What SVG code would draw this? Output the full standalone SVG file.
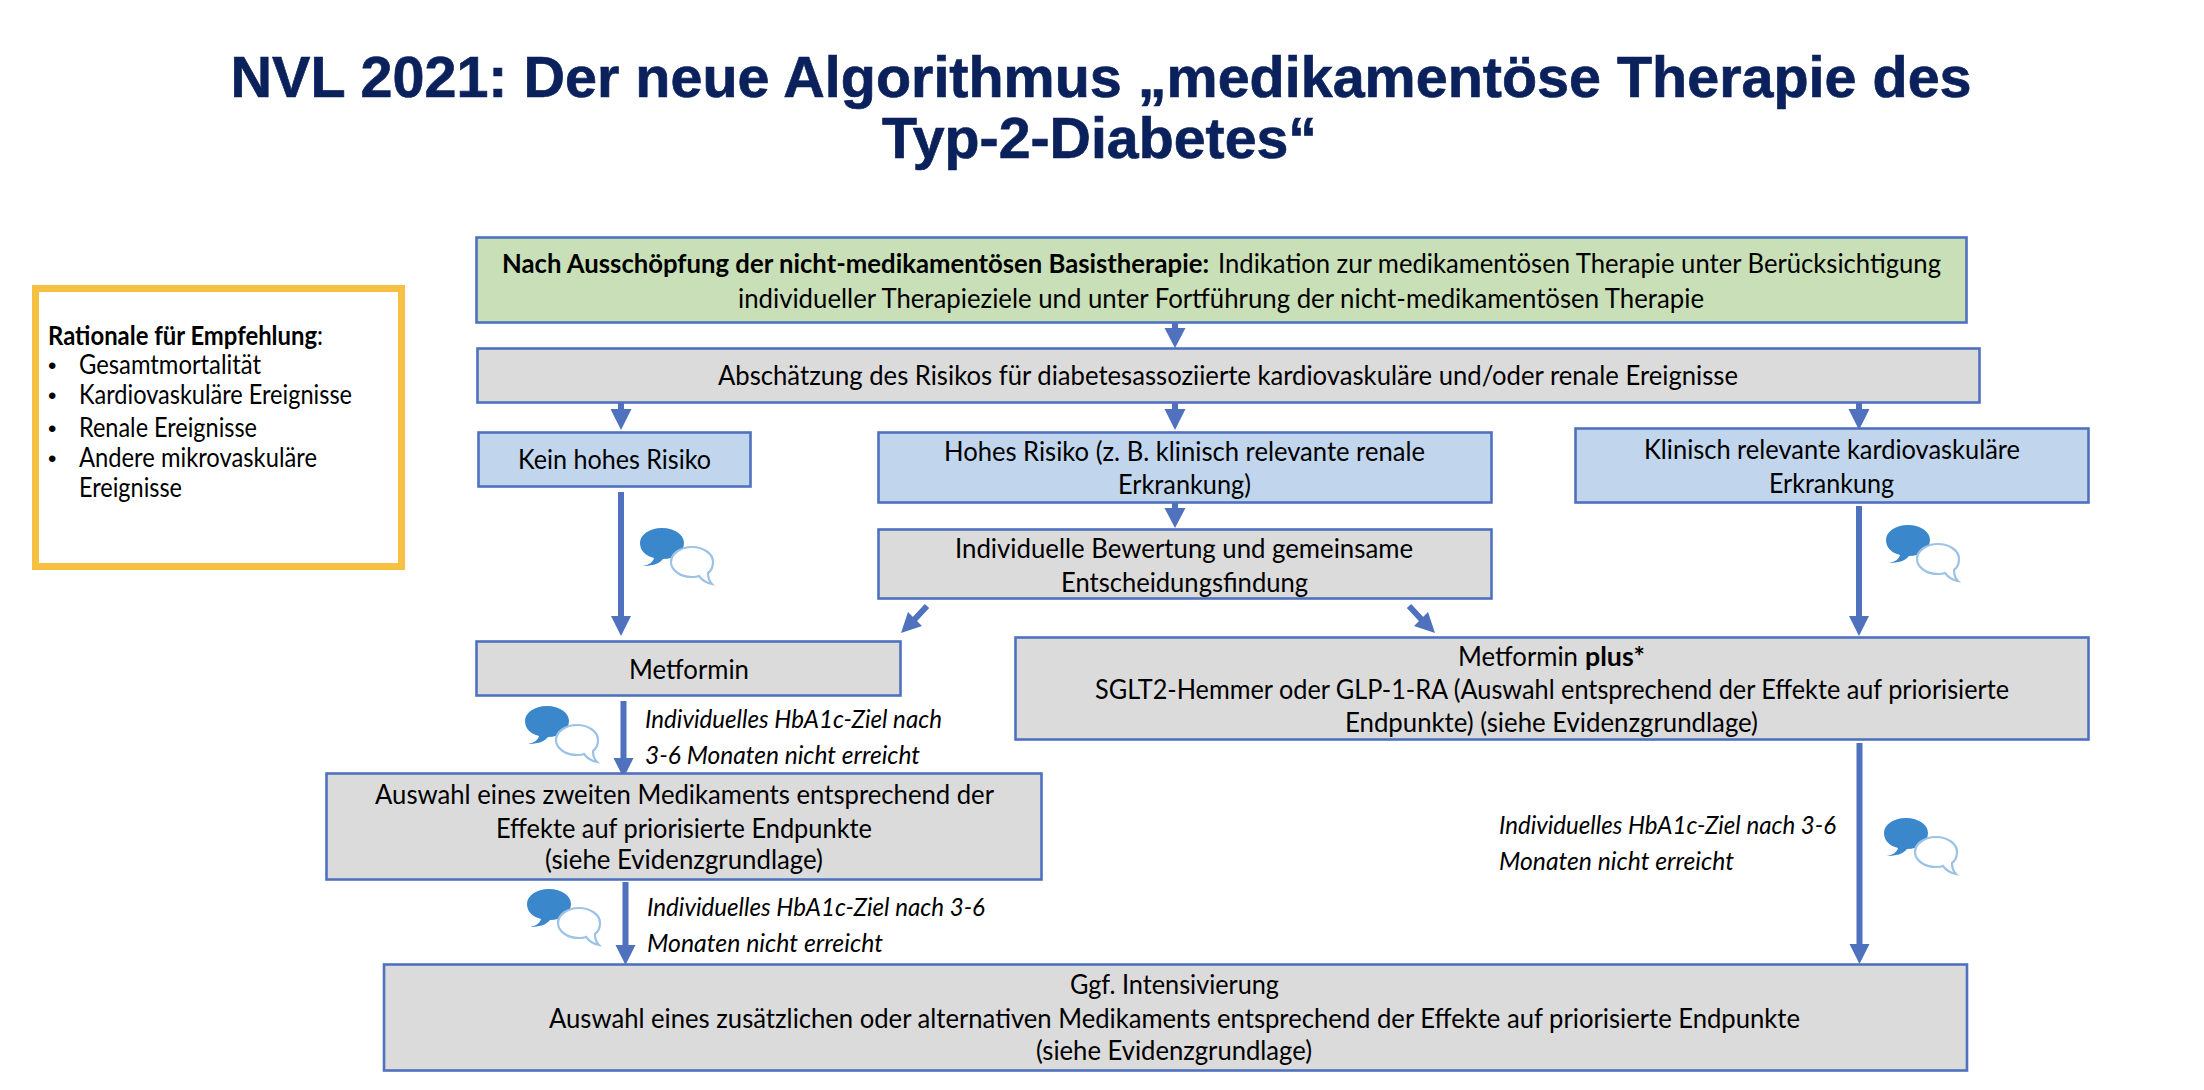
<svg xmlns="http://www.w3.org/2000/svg" width="2204" height="1090" viewBox="0 0 2204 1090">
<style>
text{font-family:"Lato","Carlito","Open Sans",sans-serif;font-size:26px;fill:#000;transform:translateY(1px)}
.title{font-family:"Liberation Sans",Arial,sans-serif;font-weight:700;font-size:57.6px;fill:#0a215c;stroke:#0a215c;stroke-width:.7;transform:none}
.bu{font-family:"Liberation Sans",Arial,sans-serif;font-size:24px}
.box{stroke:#4f71be;stroke-width:2.6}
.gr{fill:#c9dfb8}.gy{fill:#dbdbdb}.bl{fill:#c1d5ec}
.b{font-weight:700}.i{font-style:italic}
.cn{stroke:#4f71be;stroke-width:6;fill:none}
.hd{fill:#4f71be}
</style>
<defs>
<g id="chat">
<path d="M22 0C9 0 0 7 0 15C0 23 6 28 14 30C13 34 9 37 3 38C12 38 19 36 23 31C35 31 44 24 44 15C44 7 35 0 22 0Z" fill="#3b87cb"/>
<path d="M52 19C40 19 31 26 31 34C31 42 40 49 52 49C55 49 57 49 59 48C62 52 66 55 72 56C69 53 68 49 68 45C72 42 73 38 73 34C73 26 64 19 52 19Z" fill="#fff" stroke="#9cc3e6" stroke-width="2.2"/>
</g>
</defs>
<rect width="2204" height="1090" fill="#fff"/>
<g id="title">
<text class="title" x="230.600" y="97" textLength="1741" lengthAdjust="spacingAndGlyphs">NVL 2021: Der neue Algorithmus „medikamentöse Therapie des</text>
<text class="title" x="882" y="158" textLength="435" lengthAdjust="spacingAndGlyphs">Typ-2-Diabetes“</text>
</g>
<g id="rationale">
<rect x="35.5" y="288.5" width="366" height="278" fill="#fff" stroke="#f6c142" stroke-width="7"/>
<text class="b" x="48" y="344" textLength="275" lengthAdjust="spacingAndGlyphs">Rationale für Empfehlung<tspan font-weight="400">:</tspan></text>
<text class="bu" x="48" y="373">•</text><text x="79" y="373" textLength="182" lengthAdjust="spacingAndGlyphs">Gesamtmortalität</text>
<text class="bu" x="48" y="403">•</text><text x="79" y="403" textLength="273" lengthAdjust="spacingAndGlyphs">Kardiovaskuläre Ereignisse</text>
<text class="bu" x="48" y="436">•</text><text x="79" y="436" textLength="178" lengthAdjust="spacingAndGlyphs">Renale Ereignisse</text>
<text class="bu" x="48" y="466">•</text><text x="79" y="466" textLength="238" lengthAdjust="spacingAndGlyphs">Andere mikrovaskuläre</text>
<text x="79" y="496" textLength="103" lengthAdjust="spacingAndGlyphs">Ereignisse</text>
</g>
<g id="connectors">
<path class="cn" d="M1175 323V332M621 403V413M1175 403V413M1859 403V413M1175 503V512M621 492V620M1859 506V620M623.5 701V762M625.5 882V949M1859.5 743V948"/>
<path class="hd" d="M1164.500 328H1185.500L1175 348ZM610.500 409H631.500L621 430ZM1164.500 409H1185.500L1175 430ZM1848.500 409H1869.500L1859 430ZM1164.500 508H1185.500L1175 528ZM611 616H631L621 636ZM1849 616H1869L1859 636ZM613.500 758H633.500L623.500 778ZM615.500 945H635.500L625.500 965ZM1849.500 944H1869.500L1859.500 964Z"/>
<path class="cn" d="M927 606L914 620M1409 606L1422 620"/>
<path class="hd" d="M901 633L908 612L922 626ZM1435 633L1428 612L1414 626Z"/>
</g>
<g id="n-basis">
<rect class="box gr" x="476.500" y="237.500" width="1490" height="85"/>
<text class="b" x="502" y="272" textLength="707" lengthAdjust="spacingAndGlyphs">Nach Ausschöpfung der nicht-medikamentösen Basistherapie:</text>
<text x="1218" y="272" textLength="723" lengthAdjust="spacingAndGlyphs">Indikation zur medikamentösen Therapie unter Berücksichtigung</text>
<text x="738" y="307" textLength="966" lengthAdjust="spacingAndGlyphs">individueller Therapieziele und unter Fortführung der nicht-medikamentösen Therapie</text>
</g>
<g id="n-risk">
<rect class="box gy" x="477.500" y="348.500" width="1502" height="54"/>
<text x="718" y="384" textLength="1020" lengthAdjust="spacingAndGlyphs">Abschätzung des Risikos für diabetesassoziierte kardiovaskuläre und/oder renale Ereignisse</text>
</g>
<g id="n-kein">
<rect class="box bl" x="478.500" y="432.500" width="272" height="54"/>
<text x="518" y="468" textLength="193" lengthAdjust="spacingAndGlyphs">Kein hohes Risiko</text>
</g>
<g id="n-hoch">
<rect class="box bl" x="878.500" y="432.500" width="613" height="70"/>
<text x="944" y="460" textLength="481" lengthAdjust="spacingAndGlyphs">Hohes Risiko (z. B. klinisch relevante renale</text>
<text x="1118" y="493" textLength="133" lengthAdjust="spacingAndGlyphs">Erkrankung)</text>
</g>
<g id="n-klin">
<rect class="box bl" x="1575.500" y="428.500" width="513" height="74"/>
<text x="1644" y="458" textLength="376" lengthAdjust="spacingAndGlyphs">Klinisch relevante kardiovaskuläre</text>
<text x="1769" y="492" textLength="125" lengthAdjust="spacingAndGlyphs">Erkrankung</text>
</g>
<g id="n-indiv">
<rect class="box gy" x="878.500" y="529.500" width="613" height="69"/>
<text x="955" y="557" textLength="458" lengthAdjust="spacingAndGlyphs">Individuelle Bewertung und gemeinsame</text>
<text x="1061" y="591" textLength="247" lengthAdjust="spacingAndGlyphs">Entscheidungsfindung</text>
</g>
<g id="n-met">
<rect class="box gy" x="476.500" y="641.500" width="424" height="54"/>
<text x="629" y="678" textLength="120" lengthAdjust="spacingAndGlyphs">Metformin</text>
</g>
<g id="n-metplus">
<rect class="box gy" x="1015.500" y="637.500" width="1073" height="102"/>
<text x="1458" y="665" textLength="120" lengthAdjust="spacingAndGlyphs">Metformin</text>
<text class="b" x="1585" y="665" textLength="60" lengthAdjust="spacingAndGlyphs">plus*</text>
<text x="1095" y="698" textLength="914" lengthAdjust="spacingAndGlyphs">SGLT2-Hemmer oder GLP-1-RA (Auswahl entsprechend der Effekte auf priorisierte</text>
<text x="1345" y="731" textLength="413" lengthAdjust="spacingAndGlyphs">Endpunkte) (siehe Evidenzgrundlage)</text>
</g>
<g id="n-zweit">
<rect class="box gy" x="326.500" y="773.500" width="715" height="106"/>
<text x="375" y="803" textLength="619" lengthAdjust="spacingAndGlyphs">Auswahl eines zweiten Medikaments entsprechend der</text>
<text x="496" y="837" textLength="376" lengthAdjust="spacingAndGlyphs">Effekte auf priorisierte Endpunkte</text>
<text x="545" y="868" textLength="278" lengthAdjust="spacingAndGlyphs">(siehe Evidenzgrundlage)</text>
</g>
<g id="n-ggf">
<rect class="box gy" x="384" y="964.500" width="1583" height="106"/>
<text x="1070" y="993" textLength="209" lengthAdjust="spacingAndGlyphs">Ggf. Intensivierung</text>
<text x="549" y="1027" textLength="1251" lengthAdjust="spacingAndGlyphs">Auswahl eines zusätzlichen oder alternativen Medikaments entsprechend der Effekte auf priorisierte Endpunkte</text>
<text x="1036" y="1059" textLength="276" lengthAdjust="spacingAndGlyphs">(siehe Evidenzgrundlage)</text>
</g>
<g id="labels">
<text class="i" x="645" y="727" textLength="297" lengthAdjust="spacingAndGlyphs">Individuelles HbA1c-Ziel nach</text>
<text class="i" x="645" y="763" textLength="275" lengthAdjust="spacingAndGlyphs">3-6 Monaten nicht erreicht</text>
<text class="i" x="647" y="915" textLength="338" lengthAdjust="spacingAndGlyphs">Individuelles HbA1c-Ziel nach 3-6</text>
<text class="i" x="647" y="951" textLength="236" lengthAdjust="spacingAndGlyphs">Monaten nicht erreicht</text>
<text class="i" x="1499" y="833" textLength="337" lengthAdjust="spacingAndGlyphs">Individuelles HbA1c-Ziel nach 3-6</text>
<text class="i" x="1499" y="869" textLength="235" lengthAdjust="spacingAndGlyphs">Monaten nicht erreicht</text>
</g>
<g id="icons">
<use href="#chat" x="640" y="528"/>
<use href="#chat" x="1886" y="525"/>
<use href="#chat" x="525" y="706"/>
<use href="#chat" x="527" y="889"/>
<use href="#chat" x="1884" y="818"/>
</g>
</svg>
